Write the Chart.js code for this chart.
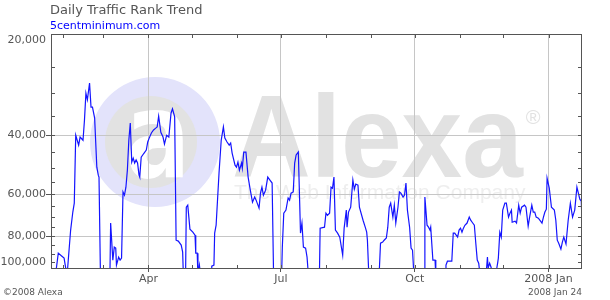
<!DOCTYPE html>
<html>
<head>
<meta charset="utf-8">
<script src="https://cdn.jsdelivr.net/npm/chart.js@4.4.1/dist/chart.umd.min.js"></script>
<style>
  body { margin: 0; background: #fff; }
  #wrap { position: relative; width: 610px; height: 300px; }
  .txt { position: absolute; font-family: "DejaVu Sans", sans-serif; white-space: nowrap; line-height: 1; }
  #title { left: 50px; top: 3px; font-size: 13px; color: #555; }
  #site { left: 50px; top: 20px; font-size: 11px; color: #0000ff; }
  #copy { left: 3px; top: 288px; font-size: 9px; color: #555; }
  #date { right: 28px; top: 288px; font-size: 9px; color: #555; }
</style>
</head>
<body>
<div id="wrap">
  <canvas id="rankChart" width="610" height="300"></canvas>
  <div class="txt" id="title">Daily Traffic Rank Trend</div>
  <div class="txt" id="site">5centminimum.com</div>
  <div class="txt" id="copy">©2008 Alexa</div>
  <div class="txt" id="date">2008 Jan 24</div>
</div>
<script>
// day 0 = 2007 Jan 24, day 365 = 2008 Jan 24
const days = [
    3, 5, 7.5, 9, 11, 13.5, 15, 16, 17, 19, 20, 22, 23, 24, 25, 26.5, 27.5, 28.5, 30, 31.5, 32.5, 33, 34,
    40.5, 41, 42.5, 43.5, 44.5, 45, 46.5, 47.5, 48.5, 49.5, 50.5, 51.5, 52.5, 53.5, 54.5, 55.5, 56.5, 57.5,
    58.5, 59.5, 60.5, 61, 62, 63.5, 65.5, 66.5, 67.5, 69, 70.5, 72, 73, 74, 75.5, 77, 78, 79.5, 81, 82.5,
    83.5, 85, 86, 87.5, 89.5, 90.5, 91,
    92.5, 93, 94, 95.5, 97.5, 99, 99.5, 100.5, 101, 102, 103,
    110, 110.5, 112, 112.5, 113.5, 115.5, 117, 118.5, 119.5, 121, 122.5, 123.5, 124.5, 126.5, 127.5, 128.5,
    129.5, 131, 131.5, 132.5, 134, 135.5, 137, 138.5, 140, 141, 143, 144, 145, 146, 147.5, 149, 150.5, 152, 153,
    158.5, 159, 160, 161.5, 163, 164, 165, 166.5, 167.5, 168.5, 170, 171.5, 172.5, 173.5, 175, 176, 177,
    184.5, 185, 188, 189, 190, 191.5, 192.5, 193.5, 194.5, 195.5, 197, 198.5, 200.5, 201.5, 203, 203.5,
    204.5, 206, 207.5, 208.5, 209.5, 211, 212, 214.5, 216, 217, 217.5, 218.5,
    225.5, 226.5, 228, 229, 230.5, 231.5, 232.5, 233.5, 235, 236, 237, 238.5, 239.5, 240.5, 242, 243, 244,
    245, 246.5, 247.5, 248.5, 249.5,
    256.5, 257, 258.5, 259.5, 260.5, 261, 262.5, 264, 264.5,
    271, 271.5, 272.5, 275.5, 276.5, 277.5, 279.5, 280.5, 281.5, 282.5, 283.5, 284.5, 286, 287.5, 288.5,
    289.5, 291, 292, 293, 294, 295,
    299, 300, 300.5, 301.5, 302.5, 303.5,
    305.5, 307, 307.5, 308.5, 309.5, 310.5, 312, 313, 314.5, 315.5, 316.5, 317, 319, 320, 321.5, 322.5,
    323.5, 325.5, 326.5, 328, 329, 330.5, 331.5, 332.5, 333.5, 335, 336, 337.5, 338.5, 339.5, 340.5, 341,
    342.5, 344, 346, 347, 348, 349, 350.5, 351.5, 352.5, 354, 355.5, 357, 358.5, 360, 361.5, 362.5, 363.5,
    364.5, 365
];

const ranks = [
    105000, 89700, 91600, 92800, 105000, 76600, 67700, 63700, 40000, 42800, 40500, 41400, 36100, 30000,
    31400, 28000, 33000, 33000, 35600, 49800, 52600, 53300, 105000,
    105000, 73000, 94100, 86100, 86700, 97400, 92200, 94100, 92800, 59000, 60300, 57100, 50800, 41400,
    36800, 48100, 46800, 48400, 47400, 48400, 52600, 53300, 46500, 45500, 44300, 41900, 40800, 39400,
    38600, 38100, 37800, 35100, 39200, 40500, 42500, 40000, 40500, 34400, 33400, 35300, 82100, 82600,
    84900, 89100, 105000,
    105000, 65500, 64600, 76100, 77700, 79300, 89700, 89700, 105000, 97400, 105000,
    105000, 98100, 97400, 78200, 74100, 51800, 41400, 37800, 40800, 41900, 42800, 42200, 45200, 49100,
    49800, 48100, 50800, 48400, 50100, 44900, 44900, 53300, 58300, 63300, 61100, 62400, 65900, 59500,
    57100, 60300, 58300, 53300, 54400, 55500, 105000,
    105000, 86100, 68200, 66800, 61500, 62400, 59500, 59000, 48400, 45800, 44900, 78200, 73000, 86100,
    86700, 92200, 105000,
    105000, 75600, 75100, 68200, 69200, 68200, 57100, 57500, 53300, 76600, 78200, 80400, 91000, 75600,
    66800, 75100, 67700, 65500, 54400, 57900, 55900, 56300, 65500, 71600, 75100, 77700, 82100, 105000,
    105000, 83800, 83200, 82100, 80900, 75100, 65500, 63700, 70100, 64600, 73000, 65500, 59000, 59500,
    61100, 60300, 55500, 66800, 75100, 86700, 87900, 105000,
    105000, 61100, 74100, 75100, 76600, 75100, 94100, 94100, 105000,
    105000, 97400, 94800, 94800, 78200, 78200, 80400, 76600, 75600, 77700, 75600, 74100, 73000, 70100,
    71600, 72600, 74100, 83800, 94100, 96100, 105000,
    105000, 92200, 99400, 96100, 98800, 105000,
    105000, 96100, 92800, 77700, 80400, 66800, 63700, 63700, 70100, 68200, 66800, 72600, 72100, 73000,
    64600, 68200, 65500, 64600, 65500, 74600, 70100, 64600, 67700, 67700, 70100, 70600, 71600, 73000,
    70100, 67700, 66400, 53700, 57500, 65500, 66800, 71600, 82100, 83800, 87300, 83200, 80400, 84300,
    71600, 63700, 70100, 66800, 57100, 59500, 62000, 62800, 72600
];

// month starts from Feb 2007 to Jan 2008
const monthDays = [8, 36, 67, 97, 128, 158, 189, 220, 250, 281, 311, 342];
const monthLabels = ['', '', 'Apr', '', '', 'Jul', '', '', 'Oct', '', '', '2008 Jan'];

const rankTicks = [20000, 25000, 30000, 35000, 40000, 45000, 50000, 55000, 60000, 65000,
    70000, 75000, 80000, 85000, 90000, 95000, 100000];
const rankLabels = {
    20000: ['', '20,000'],
    40000: '40,000',
    60000: '60,000',
    80000: '80,000',
    100000: ['100,000', '']
};

const points = days.map((d, i) => ({ x: d, y: ranks[i] }));

const isInnerMajor = v => v === 40000 || v === 60000 || v === 80000;

const alexaMark = {
    id: 'alexaMark',
    beforeDraw(chart) {
        const c = chart.ctx;
        c.save();
        c.fillStyle = '#e3e3fb';
        c.beginPath();
        c.arc(155, 142, 65, 0, Math.PI * 2);
        c.fill();
        c.fillStyle = '#e2e2e2';
        c.beginPath();
        c.arc(151, 142, 46, 0, Math.PI * 2);
        c.fill();
        c.fillStyle = '#ffffff';
        c.font = 'bold 120px "DejaVu Sans"';
        c.textAlign = 'center';
        c.textBaseline = 'alphabetic';
        c.save();
        c.translate(158, 177);
        c.scale(0.8, 1);
        c.fillText('a', 0, 0);
        c.restore();

        c.fillStyle = '#e2e2e2';
        c.textAlign = 'left';
        c.save();
        c.translate(232, 177);
        c.scale(1, 1.08);
        c.font = 'bold 109px "Liberation Sans"';
        c.fillText('Alexa', 0, 0);
        c.restore();
        c.font = '20px "Liberation Sans"';
        c.textAlign = 'center';
        c.textBaseline = 'middle';
        c.fillText('®', 533, 118);
        c.fillStyle = '#eeeeee';
        c.textAlign = 'left';
        c.textBaseline = 'alphabetic';
        c.font = '21px "Liberation Sans"';
        c.fillText('The Web Information Company', 234, 199);
        c.restore();
    }
};

const frameTicks = {
    id: 'frameTicks',
    afterDraw(chart) {
        const c = chart.ctx;
        const a = chart.chartArea;
        const xs = chart.scales.x;
        const ys = chart.scales.y;
        c.save();
        c.strokeStyle = '#555';
        c.lineWidth = 1;
        c.beginPath();
        rankTicks.forEach(v => {
            if (v === 20000 || v === 100000) return;
            const py = Math.round(ys.getPixelForValue(v)) + 0.5;
            c.moveTo(a.left, py); c.lineTo(a.left + 4, py);
            c.moveTo(a.right, py); c.lineTo(a.right - 4, py);
        });
        monthDays.forEach(d => {
            const px = Math.round(xs.getPixelForValue(d)) + 0.5;
            c.moveTo(px, a.top); c.lineTo(px, a.top + 4);
            c.moveTo(px, a.bottom); c.lineTo(px, a.bottom - 4);
        });
        c.stroke();
        c.strokeRect(a.left + 0.5, a.top + 0.5, a.right - a.left - 1, a.bottom - a.top - 1);
        c.restore();
    }
};

const ctx = document.getElementById('rankChart');

new Chart(ctx, {
    type: 'line',
    data: {
        datasets: [{
            label: 'Traffic Rank',
            data: points,
            borderColor: '#1414ff',
            borderWidth: 1.2,
            pointRadius: 0,
            tension: 0,
            fill: false
        }]
    },
    options: {
        responsive: false,
        animation: false,
        layout: {
            padding: { top: 34, right: 28, left: 0, bottom: 0 }
        },
        plugins: {
            legend: { display: false },
            tooltip: { enabled: false }
        },
        scales: {
            x: {
                type: 'linear',
                min: 0,
                max: 365,
                afterBuildTicks: scale => {
                    scale.ticks = monthDays.map(v => ({ value: v }));
                },
                afterFit: scale => { scale.height = 31; },
                border: { display: false },
                grid: {
                    color: c => (c.tick && monthLabels[c.index]) ? '#c6c6c6' : 'rgba(0,0,0,0)',
                    tickColor: c => (c.tick && monthLabels[c.index]) ? '#555' : 'rgba(0,0,0,0)',
                    tickLength: 3
                },
                ticks: {
                    autoSkip: false,
                    maxRotation: 0,
                    padding: 1,
                    color: '#555',
                    font: { family: 'DejaVu Sans', size: 11 },
                    callback: (value, index) => monthLabels[index]
                }
            },
            y: {
                type: 'logarithmic',
                reverse: true,
                min: 20000,
                max: 100000,
                afterBuildTicks: scale => {
                    scale.ticks = rankTicks.map(v => ({ value: v }));
                },
                afterFit: scale => { scale.width = 51; },
                border: { display: false },
                grid: {
                    color: c => (c.tick && isInnerMajor(c.tick.value)) ? '#c6c6c6' : 'rgba(0,0,0,0)',
                    tickColor: c => (c.tick && isInnerMajor(c.tick.value)) ? '#555' : 'rgba(0,0,0,0)',
                    tickLength: 5
                },
                ticks: {
                    autoSkip: false,
                    padding: 0,
                    color: '#555',
                    font: { family: 'DejaVu Sans', size: 11 },
                    callback: value => rankLabels[value] || ''
                }
            }
        }
    },
    plugins: [alexaMark, frameTicks]
});
</script>
</body>
</html>
